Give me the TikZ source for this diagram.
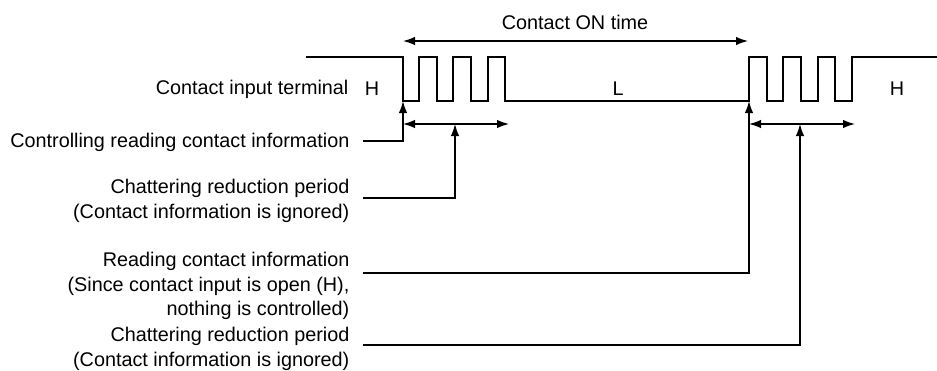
\documentclass[tikz,border=0pt]{standalone}
\usepackage{fontspec}
\setmainfont{Liberation Sans}
\usetikzlibrary{arrows.meta}
\begin{document}
\begin{tikzpicture}[x=1pt,y=-1pt, line width=1.3pt,
  txt/.style={font=\fontsize{19.8}{24.5}\selectfont, inner sep=0pt},
  lab/.style={txt, align=right, anchor=east},
  arr/.style={-{Latex[length=12pt,width=8.5pt]}},
  darr/.style={{Latex[length=12pt,width=8.5pt]}-{Latex[length=12pt,width=8.5pt]}}]
\useasboundingbox (0,0) rectangle (937,370);
% waveform
\draw (306,57) -- (403,57) -- (403,101) -- (419,101) -- (419,57) -- (437,57) -- (437,101)
  -- (453,101) -- (453,57) -- (471,57) -- (471,101) -- (488,101) -- (488,57) -- (505,57)
  -- (505,101) -- (749,101) -- (749,57) -- (767,57) -- (767,101) -- (783,101) -- (783,57)
  -- (801,57) -- (801,101) -- (818,101) -- (818,57) -- (835,57) -- (835,101) -- (852,101)
  -- (852,57) -- (937,57);
% key coordinates
\coordinate (fall) at (403,101);
\coordinate (rise) at (749,101);
\coordinate (onL) at (403,41);
\coordinate (onR) at (748,41);
\coordinate (c1L) at (403,124);
\coordinate (c1R) at (509,124);
\coordinate (c1M) at (455,124);
\coordinate (c2L) at (749,124);
\coordinate (c2R) at (855,124);
\coordinate (c2M) at (800,124);
% texts
\node[txt] (ontime) at (575,22) {Contact ON time};
\node[lab] (term) at (349,89) {Contact input terminal};
\node[txt] (h1) at (372,89) {H};
\node[txt] (l1) at (618,89) {L};
\node[txt] (h2) at (897,89) {H};
\node[lab] (ctrl) at (350,142) {Controlling reading contact information};
\node[lab] (chat1) at (350,201) {Chattering reduction period\\(Contact information is ignored)};
\node[lab] (read) at (350,286) {Reading contact information\\(Since contact input is open (H),\\nothing is controlled)};
\node[lab] (chat2) at (350,349) {Chattering reduction period\\(Contact information is ignored)};
% line starts
\coordinate (s1) at (363,141);
\coordinate (s2) at (363,198);
\coordinate (s3) at (363,273);
\coordinate (s4) at (363,345);
% arrows
\draw[darr] (onL) -- (onR);
\draw[darr] (c1L) -- (c1R);
\draw[darr] (c2L) -- (c2R);
\draw[arr] (s1) -| (fall);
\draw[arr] (s2) -| (c1M);
\draw[arr] (s3) -| (rise);
\draw[arr] (s4) -| (c2M);
\end{tikzpicture}
\end{document}
